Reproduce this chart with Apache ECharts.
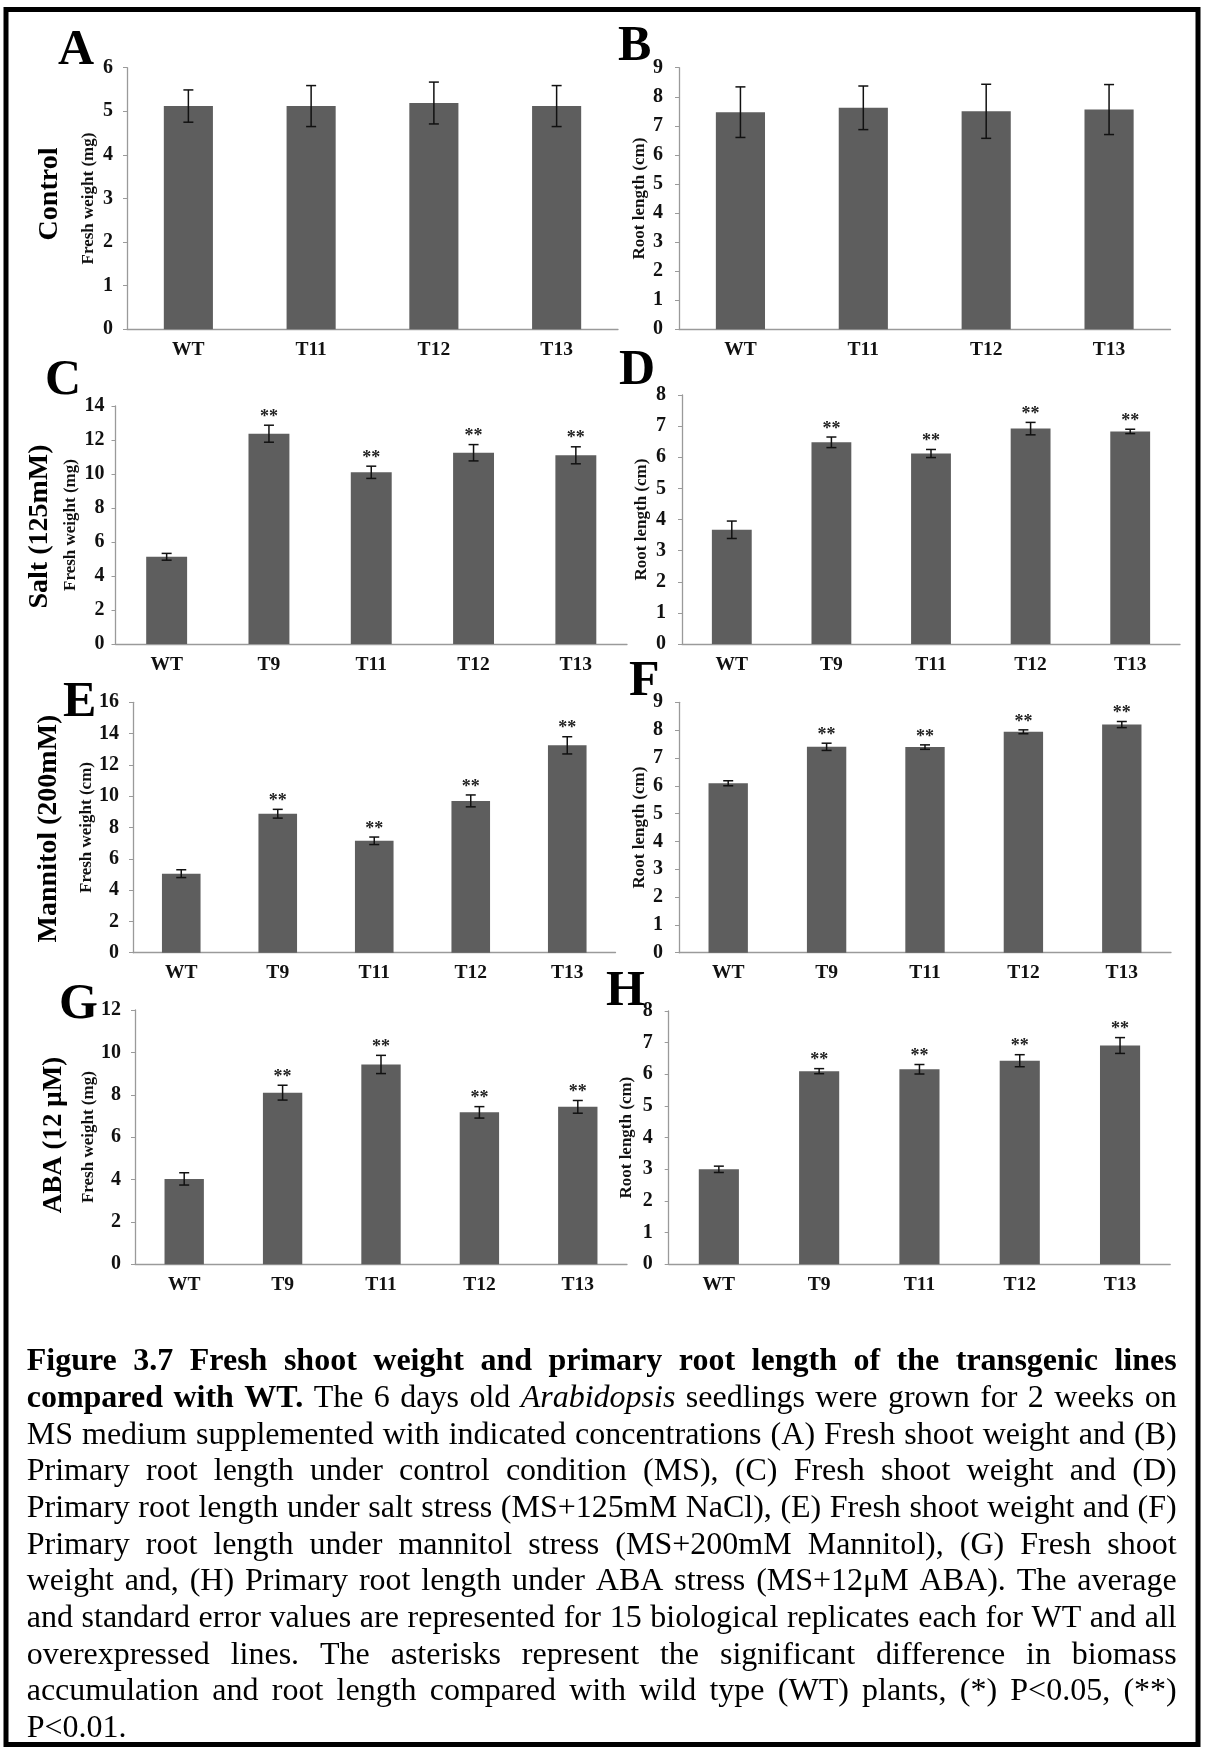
<!DOCTYPE html>
<html><head><meta charset="utf-8">
<script src="https://cdn.jsdelivr.net/npm/echarts@6/dist/echarts.min.js"></script>
<style>html,body{margin:0;padding:0;background:#fff}#c{width:1205px;height:1748px}</style>
</head><body><div id="c"></div>
<script>
// ---------------- DATA ----------------
const cats4 = ['WT', 'T11', 'T12', 'T13'];
const cats5 = ['WT', 'T9', 'T11', 'T12', 'T13'];
const sig4 = ['', '', '', ''];
const sig5 = ['', '**', '**', '**', '**'];

const aVals = [5.12, 5.12, 5.19, 5.12];
const aErr  = [0.37, 0.47, 0.48, 0.47];
const bVals = [7.47, 7.62, 7.50, 7.56];
const bErr  = [0.87, 0.75, 0.93, 0.86];
const cVals = [5.13, 12.37, 10.10, 11.25, 11.10];
const cErr  = [0.20, 0.50, 0.36, 0.48, 0.50];
const dVals = [3.67, 6.48, 6.12, 6.92, 6.83];
const dErr  = [0.28, 0.17, 0.13, 0.20, 0.07];
const eVals = [5.05, 8.88, 7.15, 9.70, 13.25];
const eErr  = [0.25, 0.28, 0.24, 0.38, 0.55];
const fVals = [6.09, 7.40, 7.39, 7.94, 8.20];
const fErr  = [0.09, 0.13, 0.08, 0.07, 0.11];
const gVals = [4.03, 8.10, 9.43, 7.17, 7.43];
const gErr  = [0.29, 0.35, 0.43, 0.27, 0.30];
const hVals = [3.00, 6.10, 6.16, 6.43, 6.91];
const hErr  = [0.10, 0.08, 0.15, 0.19, 0.25];

const aTicks = [0, 1, 2, 3, 4, 5, 6];
const bTicks = [0, 1, 2, 3, 4, 5, 6, 7, 8, 9];
const cTicks = [0, 2, 4, 6, 8, 10, 12, 14];
const dTicks = [0, 1, 2, 3, 4, 5, 6, 7, 8];
const eTicks = [0, 2, 4, 6, 8, 10, 12, 14, 16];
const fTicks = [0, 1, 2, 3, 4, 5, 6, 7, 8, 9];
const gTicks = [0, 2, 4, 6, 8, 10, 12];
const hTicks = [0, 1, 2, 3, 4, 5, 6, 7, 8];

const nameFW = 'Fresh weight (mg)';
const nameFWcm = 'Fresh weight (cm)';
const nameRL = 'Root length (cm)';
const panelLetters = ['A', 'B', 'C', 'D', 'E', 'F', 'G', 'H'];
const conditions = ['Control', 'Salt (125mM)', 'Mannitol (200mM)', 'ABA (12 μM)'];

const captionLines = [
  [['Figure 3.7 Fresh shoot weight and primary root length of the transgenic lines', 'b']],
  [['compared with WT.', 'b'], ['The 6 days old', 'r'], ['Arabidopsis', 'i'], ['seedlings were grown for 2 weeks on', 'r']],
  [['MS medium supplemented with indicated concentrations (A) Fresh shoot weight and (B)', 'r']],
  [['Primary root length under control condition (MS), (C) Fresh shoot weight and (D)', 'r']],
  [['Primary root length under salt stress (MS+125mM NaCl), (E) Fresh shoot weight and (F)', 'r']],
  [['Primary root length under mannitol stress (MS+200mM Mannitol), (G) Fresh shoot', 'r']],
  [['weight and, (H) Primary root length under ABA stress (MS+12μM ABA). The average', 'r']],
  [['and standard error values are represented for 15 biological replicates each for WT and all', 'r']],
  [['overexpressed lines. The asterisks represent the significant difference in biomass', 'r']],
  [['accumulation and root length compared with wild type (WT) plants, (*) P<0.05, (**)', 'r']],
  [['P<0.01.', 'r']]
];

// ---------------- LAYOUT ----------------
const SERIF = '"Liberation Serif", "Times New Roman", serif';
const BAR_COLOR = '#5e5e5e';
const AXIS_COLOR = '#9a9a9a';

const panels = [
  {cats: cats4, vals: aVals, errs: aErr, sig: sig4, ticks: aTicks, name: nameFW,   grid: {left: 127,   top: 67.7,  width: 491,   height: 261.6}, nameGap: 30,  lm: 14},
  {cats: cats4, vals: bVals, errs: bErr, sig: sig4, ticks: bTicks, name: nameRL,   grid: {left: 679,   top: 67.7,  width: 491.5, height: 261.6}, nameGap: 31,  lm: 16},
  {cats: cats5, vals: cVals, errs: cErr, sig: sig5, ticks: cTicks, name: nameFW,   grid: {left: 115.5, top: 406,   width: 511.5, height: 238},   nameGap: 36,  lm: 11},
  {cats: cats5, vals: dVals, errs: dErr, sig: sig5, ticks: dTicks, name: nameRL,   grid: {left: 682,   top: 395,   width: 498,   height: 249},   nameGap: 32,  lm: 16},
  {cats: cats5, vals: eVals, errs: eErr, sig: sig5, ticks: eTicks, name: nameFWcm, grid: {left: 133,   top: 702.3, width: 482.5, height: 250.4}, nameGap: 38,  lm: 14},
  {cats: cats5, vals: fVals, errs: fErr, sig: sig5, ticks: fTicks, name: nameRL,   grid: {left: 679,   top: 702.3, width: 492,   height: 250.4}, nameGap: 31,  lm: 16},
  {cats: cats5, vals: gVals, errs: gErr, sig: sig5, ticks: gTicks, name: nameFW,   grid: {left: 135,   top: 1010,  width: 492,   height: 254.3}, nameGap: 36,  lm: 14},
  {cats: cats5, vals: hVals, errs: hErr, sig: sig5, ticks: hTicks, name: nameRL,   grid: {left: 668.7, top: 1011,  width: 501.5, height: 253.3}, nameGap: 34,  lm: 16}
];

const letterPos = [[58, 51], [618, 47.5], [45, 381], [619, 371.5], [63, 703], [629, 682.5], [59, 1005], [606, 992.5]];
const condPos = [[50, 194], [40, 526.5], [49, 828.5], [54, 1135]];
const condSize = [28, 28, 28, 27];

const grids = [], xAxes = [], yAxes = [], series = [];
panels.forEach((p, i) => {
  grids.push(Object.assign({containLabel: false, outerBoundsMode: 'none'}, p.grid));
  xAxes.push({
    type: 'category', gridIndex: i, data: p.cats,
    axisLine: {show: true, lineStyle: {color: AXIS_COLOR, width: 1.3}},
    axisTick: {show: false},
    axisLabel: {margin: 10.5, color: '#111', fontFamily: SERIF, fontWeight: 'bold', fontSize: 19.5}
  });
  const t = p.ticks;
  yAxes.push({
    type: 'value', gridIndex: i, min: t[0], max: t[t.length - 1], interval: t[1] - t[0],
    name: p.name, nameLocation: 'middle', nameGap: p.nameGap,
    nameTextStyle: {color: '#111', fontFamily: SERIF, fontWeight: 'bold', fontSize: 17},
    axisLine: {show: true, lineStyle: {color: AXIS_COLOR, width: 1.3}},
    axisTick: {show: true, length: 4, inside: false, lineStyle: {color: AXIS_COLOR, width: 1}},
    splitLine: {show: false},
    axisLabel: {margin: p.lm, color: '#111', fontFamily: SERIF, fontWeight: 'bold', fontSize: 20}
  });
  series.push({
    type: 'bar', xAxisIndex: i, yAxisIndex: i, data: p.vals, barWidth: '40%',
    itemStyle: {color: BAR_COLOR}, silent: true
  });
  const sig = p.sig;
  series.push({
    type: 'custom', xAxisIndex: i, yAxisIndex: i, z: 5, silent: true,
    data: p.vals.map((v, k) => [k, v, p.errs[k]]),
    renderItem: function (params, api) {
      const idx = api.value(0), v = api.value(1), e = api.value(2);
      const x = api.coord([idx, v])[0];
      const top = api.coord([idx, v + e])[1];
      const bot = api.coord([idx, v - e])[1];
      const cw = 5;
      const st = {stroke: '#111', lineWidth: 1.5};
      const ch = [
        {type: 'line', shape: {x1: x, y1: top, x2: x, y2: bot}, style: st},
        {type: 'line', shape: {x1: x - cw, y1: top, x2: x + cw, y2: top}, style: st},
        {type: 'line', shape: {x1: x - cw, y1: bot, x2: x + cw, y2: bot}, style: st}
      ];
      const s = sig[params.dataIndex];
      if (s) ch.push({type: 'text', x: x, y: top - 8, style: {text: s, fill: '#222', fontFamily: SERIF, fontWeight: 'bold', fontSize: 18, align: 'center', verticalAlign: 'middle'}});
      return {type: 'group', children: ch};
    }
  });
});

// ---------------- GRAPHICS ----------------
const graphic = [];
graphic.push({type: 'rect', shape: {x: 6, y: 9.5, width: 1192, height: 1735}, style: {fill: 'none', stroke: '#000', lineWidth: 5}, silent: true});
panelLetters.forEach((L, i) => {
  graphic.push({type: 'text', x: letterPos[i][0], y: letterPos[i][1], style: {text: L, fill: '#000', fontFamily: SERIF, fontWeight: 'bold', fontSize: 50, align: 'left', verticalAlign: 'middle'}, silent: true});
});
conditions.forEach((c, i) => {
  graphic.push({type: 'text', x: condPos[i][0], y: condPos[i][1], rotation: Math.PI / 2, style: {text: c, fill: '#000', fontFamily: SERIF, fontWeight: 'bold', fontSize: condSize[i], align: 'center', verticalAlign: 'middle'}, silent: true});
});

// caption, justified word by word
const mctx = document.createElement('canvas').getContext('2d');
const CAP_SIZE = 32, CAP_X0 = 26.7, CAP_X1 = 1176.7, CAP_Y0 = 1362, CAP_LH = 36.67;
function styleOf(s) {
  return {fontWeight: s === 'b' ? 'bold' : 'normal', fontStyle: s === 'i' ? 'italic' : 'normal'};
}
captionLines.forEach((segs, li) => {
  const words = [];
  segs.forEach(([txt, s]) => txt.split(' ').filter(w => w.length).forEach(w => words.push({w, s})));
  let total = 0;
  words.forEach(o => {
    const st = styleOf(o.s);
    mctx.font = `${st.fontStyle} ${st.fontWeight} ${CAP_SIZE}px "Liberation Serif"`;
    o.width = mctx.measureText(o.w).width;
    total += o.width;
  });
  const last = li === captionLines.length - 1;
  mctx.font = `normal normal ${CAP_SIZE}px "Liberation Serif"`;
  const natural = mctx.measureText(' ').width;
  const gap = (last || words.length < 2) ? natural : (CAP_X1 - CAP_X0 - total) / (words.length - 1);
  let x = CAP_X0;
  const y = CAP_Y0 + li * CAP_LH;
  words.forEach(o => {
    const st = styleOf(o.s);
    graphic.push({type: 'text', x: x, y: y, silent: true, style: {text: o.w, fill: '#000', fontFamily: SERIF, fontSize: CAP_SIZE, fontWeight: st.fontWeight, fontStyle: st.fontStyle, align: 'left', verticalAlign: 'middle'}});
    x += o.width + gap;
  });
});

const chart = echarts.init(document.getElementById('c'), null, {renderer: 'canvas', width: 1205, height: 1748});
chart.setOption({
  animation: false,
  backgroundColor: '#fff',
  grid: grids, xAxis: xAxes, yAxis: yAxes, series: series,
  graphic: graphic
});
</script></body></html>
